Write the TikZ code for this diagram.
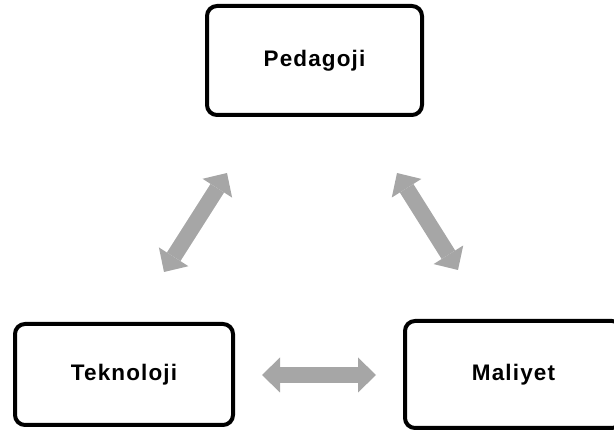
\documentclass[tikz,border=0pt]{standalone}
\usepackage{fontspec}
\setmainfont{Liberation Sans}
\newfontfamily\boxfont{Liberation Sans}[LetterSpace=5]
\usetikzlibrary{arrows.meta}
\definecolor{arrowgray}{RGB}{166,166,166}
\tikzset{
  box/.style={draw=black, line width=4pt, rounded corners=10pt, fill=white,
    font=\boxfont\bfseries\fontsize{22.5}{27}\selectfont, inner sep=0pt},
  bigarrow/.style={draw=arrowgray, line width=16pt,
    {Triangle[length=18pt,width=35pt,line width=0pt]}-{Triangle[length=18pt,width=35pt,line width=0pt]}}
}
\begin{document}
\begin{tikzpicture}[x=1pt,y=-1pt]
\useasboundingbox (0,0) rectangle (614,438);
\clip (0,0) rectangle (614,438);
\node[box, minimum width=215pt, minimum height=109pt] (ped) at (314.5,60.5) {Pedagoji};
\node[box, minimum width=218pt, minimum height=101pt] (tek) at (124,374.5) {Teknoloji};
\node[box, minimum width=217pt, minimum height=107pt] (mal) at (513.5,374.5) {Maliyet};
\coordinate (l1) at (164,272);
\coordinate (l2) at (227,173);
\coordinate (r1) at (397,173);
\coordinate (r2) at (458,270);
\coordinate (h1) at (262,375);
\coordinate (h2) at (376,375);
\draw[bigarrow] (l1) -- (l2);
\draw[bigarrow] (r1) -- (r2);
\draw[bigarrow] (h1) -- (h2);
\end{tikzpicture}
\end{document}
